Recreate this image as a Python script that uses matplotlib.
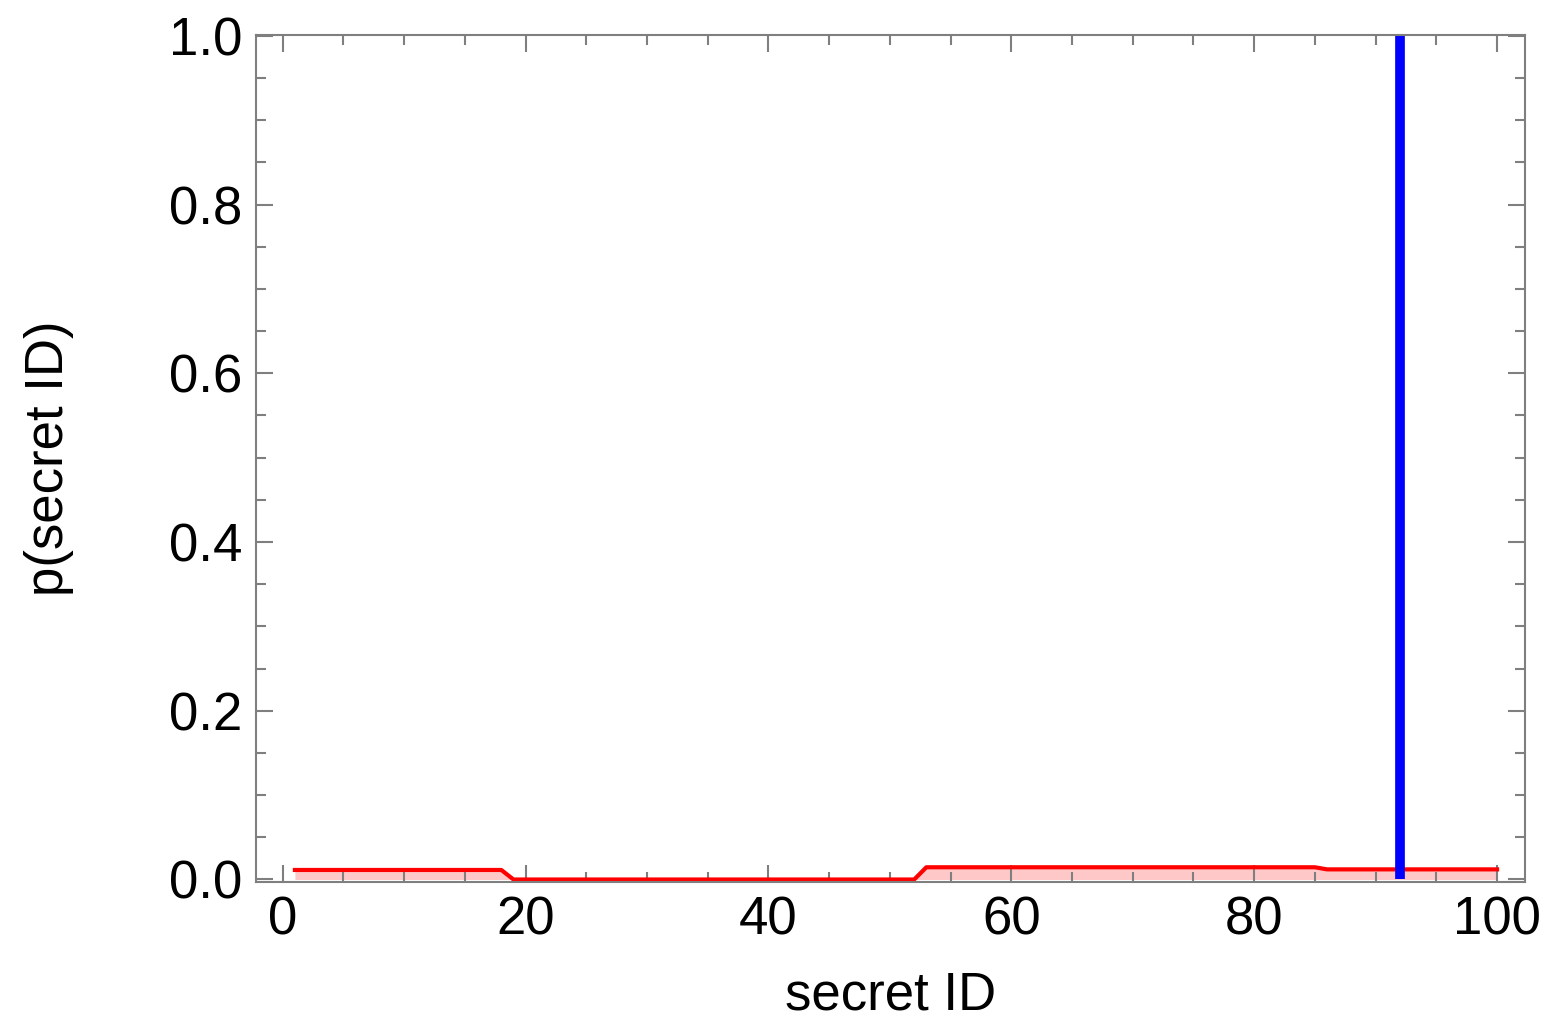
import numpy as np
import matplotlib
matplotlib.use("Agg")
import matplotlib.pyplot as plt
from matplotlib.ticker import MultipleLocator

plt.rcParams['font.family'] = ['Liberation Sans', 'DejaVu Sans']

# data
secret_ids = np.arange(1, 101)
prob_lvl = [0.0113, 0.0, 0.0145, 0.012]
seg_end = [18, 52, 85, 100]
p_secret = np.concatenate([np.full(e - s, v) for s, e, v in
                           zip([0] + seg_end[:-1], seg_end, prob_lvl)])
true_id = 92
true_p = 1.0

fig = plt.figure(figsize=(15.49, 10.23), dpi=100)
ax = fig.add_axes([0.1653, 0.1378, 0.8192, 0.828])

ax.fill_between(secret_ids, 0, p_secret, color="#ffc8c8", lw=0)
ax.plot(secret_ids, p_secret, color="red", lw=3)
ax.plot([true_id, true_id], [0, true_p], color="blue", lw=7, solid_capstyle="butt")

ax.set_xlim(-2.2, 102.3)
ax.set_ylim(-0.003, 1.001)
ax.xaxis.set_major_locator(MultipleLocator(20))
ax.xaxis.set_minor_locator(MultipleLocator(5))
ax.yaxis.set_major_locator(MultipleLocator(0.2))
ax.yaxis.set_minor_locator(MultipleLocator(0.05))
ax.yaxis.set_major_formatter(plt.FuncFormatter(lambda v, p: f"{v:.1f}"))

for sp in ax.spines.values():
    sp.set_color("#7f7f7f")
    sp.set_linewidth(1.5)
ax.tick_params(which="both", direction="in", top=True, right=True,
               color="#7f7f7f", width=1.5, labelsize=38)
ax.tick_params(which="major", length=12)
ax.tick_params(which="minor", length=7)
ax.tick_params(axis="x", which="major", pad=10)
ax.tick_params(axis="y", which="major", pad=10)

ax.set_xlabel("secret ID", fontsize=38, labelpad=18)
ax.set_ylabel("p(secret ID)", fontsize=38, labelpad=68)

fig.savefig("out.png", dpi=100)
